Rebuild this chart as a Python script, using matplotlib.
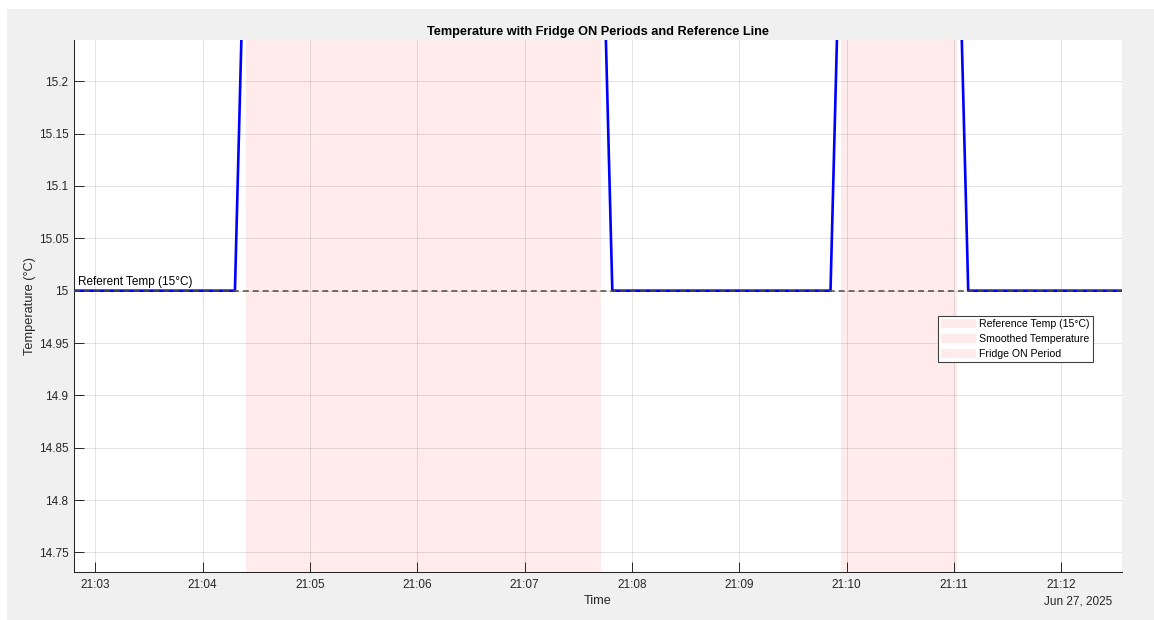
import matplotlib.pyplot as plt
import matplotlib.dates as mdates
import pandas as pd
from matplotlib.patches import Patch, Rectangle
from matplotlib.ticker import FuncFormatter, MultipleLocator

# values
day = "2025-06-27 "
time_stamps = ["21:02:48", "21:04:18", "21:04:24", "21:07:43", "21:07:49",
               "21:09:51", "21:09:57", "21:11:02", "21:11:08", "21:12:34"]
smoothed_temp = [15.0, 15.0, 15.4, 15.4, 15.0, 15.0, 15.4, 15.4, 15.0, 15.0]
on_starts = ["21:04:24.0", "21:09:56.7"]
on_ends = ["21:07:42.5", "21:11:02.0"]
ref_temp = 15.0
legend_labels = ["Reference Temp (15°C)", "Smoothed Temperature", "Fridge ON Period"]

plt.rcParams['font.family'] = ['Liberation Sans', 'DejaVu Sans']

t = pd.to_datetime([day + s for s in time_stamps], format='mixed')
starts = pd.to_datetime([day + s for s in on_starts], format='mixed')
ends = pd.to_datetime([day + s for s in on_ends], format='mixed')

fig = plt.figure(figsize=(11.54, 6.2), dpi=100, facecolor='#f0f0f0')
ax = fig.add_axes([0.0641, 0.0779, 0.9082, 0.8576])
# white margin at top / left like the screenshot
fig.add_artist(Rectangle((0, 0), 7 / 1154, 1, transform=fig.transFigure,
                         facecolor='white', edgecolor='none', zorder=-1))
fig.add_artist(Rectangle((0, 1 - 9 / 620), 1, 9 / 620, transform=fig.transFigure,
                         facecolor='white', edgecolor='none', zorder=-1))

shade = (1.0, 0.0, 0.0, 0.08)
for s, e in zip(starts, ends):
    ax.axvspan(s, e, facecolor=shade, edgecolor='none', zorder=1)

ax.plot(t, smoothed_temp, color='blue', lw=1.9, zorder=3)
ax.axhline(ref_temp, color='#4a4a4a', lw=1.1, linestyle=(0, (3.9, 2.6)), zorder=4)
ax.annotate("Referent Temp (15°C)", xy=(t[0], ref_temp), xytext=(3, 2),
            textcoords='offset points', ha='left', va='bottom',
            fontsize=8.5, color='black')

ax.set_xlim(t[0], t[-1])
ax.set_ylim(14.7316, 15.2394)
ax.yaxis.set_major_locator(MultipleLocator(0.05))
ax.yaxis.set_major_formatter(FuncFormatter(lambda v, p: f"{round(v, 4):g}"))
ax.xaxis.set_major_locator(mdates.MinuteLocator())
ax.xaxis.set_major_formatter(mdates.DateFormatter('%H:%M'))

ax.grid(True, color='#262626', alpha=0.15, lw=0.6)
for side in ['top', 'right']:
    ax.spines[side].set_visible(False)
for side in ['left', 'bottom']:
    ax.spines[side].set_color('#262626')
    ax.spines[side].set_linewidth(0.75)
ax.tick_params(direction='in', length=7.2, width=0.7, color='#262626',
               labelcolor='#262626', labelsize=8.5)
ax.tick_params(axis='x', pad=5.5)
ax.tick_params(axis='y', pad=4)

ax.set_title("Temperature with Fridge ON Periods and Reference Line",
             fontsize=9.2, fontweight='bold', color='black', pad=3.5)
ax.set_xlabel("Time", fontsize=9.2, color='#262626')
ax.xaxis.label.set_va('center')
ax.xaxis.set_label_coords(0.5, -0.056)
ax.set_ylabel("Temperature (°C)", fontsize=9.2, color='#262626')
ax.yaxis.label.set_va('center')
ax.yaxis.set_label_coords(-0.042, 0.5)
ax.text(0.9902, -0.056, "Jun 27, 2025", transform=ax.transAxes, ha='right',
        va='center', fontsize=8.5, color='#262626')

handles = [Patch(facecolor=shade, edgecolor='none') for _ in legend_labels]
leg = ax.legend(handles, legend_labels, loc='upper left',
                bbox_to_anchor=(0.8247, 0.4809), borderaxespad=0,
                fontsize=7.6, handlelength=3.36, handleheight=0.96,
                handletextpad=0.29, labelspacing=0.48, borderpad=0.25,
                fancybox=False, framealpha=1, edgecolor='#404040')
leg.get_frame().set_linewidth(0.8)

plt.savefig("out.png", dpi=100, facecolor=fig.get_facecolor())
